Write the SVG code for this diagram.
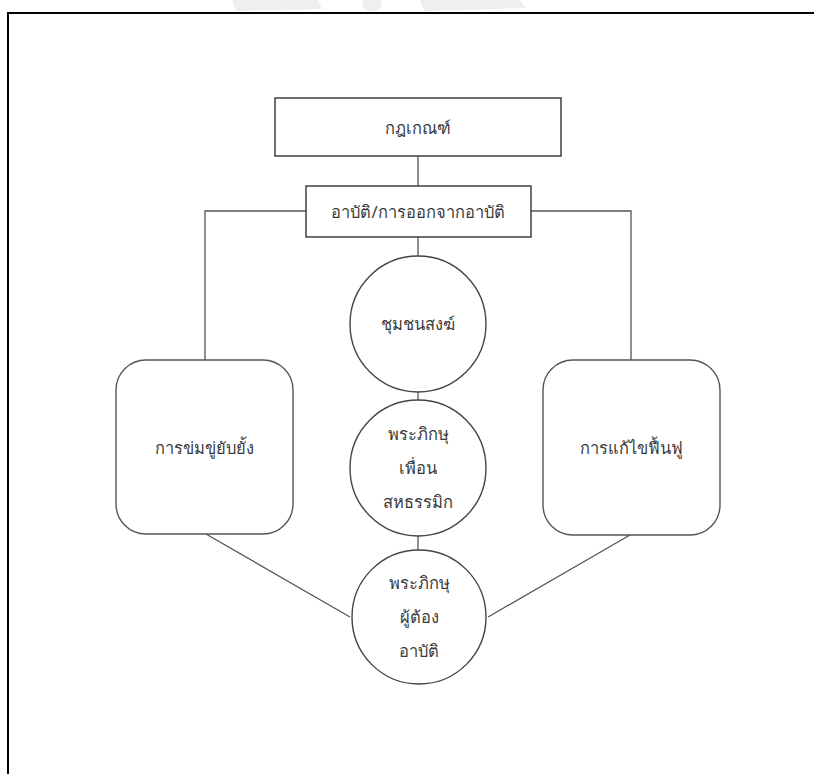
<svg xmlns="http://www.w3.org/2000/svg" width="814" height="774" viewBox="0 0 814 774">
<style>
.box{fill:#fff;stroke:#333;stroke-width:1.4}
.rbox{fill:#fff;stroke:#555;stroke-width:1.4}
.circ{fill:#fff;stroke:#444;stroke-width:1.4}
.conn{fill:none;stroke:#555;stroke-width:1.3}
text{font-family:"Noto Sans","Liberation Sans",sans-serif;font-size:16.5px;fill:#3a3a3a;text-anchor:middle;dominant-baseline:central}
</style>
<rect x="0" y="0" width="814" height="774" fill="#fff"/>
<g id="watermark" fill="#efefef">
<path d="M232 0 L318 0 L322 9 L236 11 Z"/>
<ellipse cx="372" cy="3" rx="10" ry="9"/>
<path d="M420 0 L520 0 L526 8 L424 11 Z"/>
</g>
<path d="M8 774 L8 13 L814 13" fill="none" stroke="#000" stroke-width="2"/>
<g id="connectors">
<line class="conn" x1="418" y1="156" x2="418" y2="186"/>
<polyline class="conn" points="306,211 205,211 205,360"/>
<polyline class="conn" points="531,211 631,211 631,360"/>
<line class="conn" x1="418" y1="237" x2="418" y2="256"/>
<line class="conn" x1="418" y1="392" x2="418" y2="401"/>
<line class="conn" x1="418" y1="536" x2="418" y2="551"/>
<line class="conn" x1="206" y1="534" x2="350" y2="617"/>
<line class="conn" x1="630" y1="535" x2="488" y2="617"/>
</g>
<g id="rules">
<rect class="box" x="275" y="98" width="286" height="58"/>
<text x="418" y="127">กฎเกณฑ์</text>
</g>
<g id="offence">
<rect class="box" x="306" y="186" width="225" height="51"/>
<text x="418" y="211">อาบัติ/การออกจากอาบัติ</text>
</g>
<g id="sangha">
<circle class="circ" cx="418" cy="324" r="68"/>
<text x="418" y="323">ชุมชนสงฆ์</text>
</g>
<g id="deterrence">
<rect class="rbox" x="116" y="360" width="177" height="174" rx="30" ry="30"/>
<text x="204" y="447">การข่มขู่ยับยั้ง</text>
</g>
<g id="restoration">
<rect class="rbox" x="543" y="360" width="177" height="175" rx="30" ry="30"/>
<text x="631" y="447">การแก้ไขฟื้นฟู</text>
</g>
<g id="fellow-monks">
<circle class="circ" cx="418" cy="468" r="68"/>
<text x="418" y="433">พระภิกษุ</text>
<text x="418" y="467">เพื่อน</text>
<text x="418" y="501">สหธรรมิก</text>
</g>
<g id="offending-monk">
<circle class="circ" cx="419" cy="617" r="67"/>
<text x="419" y="582">พระภิกษุ</text>
<text x="419" y="616">ผู้ต้อง</text>
<text x="419" y="650">อาบัติ</text>
</g>
</svg>
